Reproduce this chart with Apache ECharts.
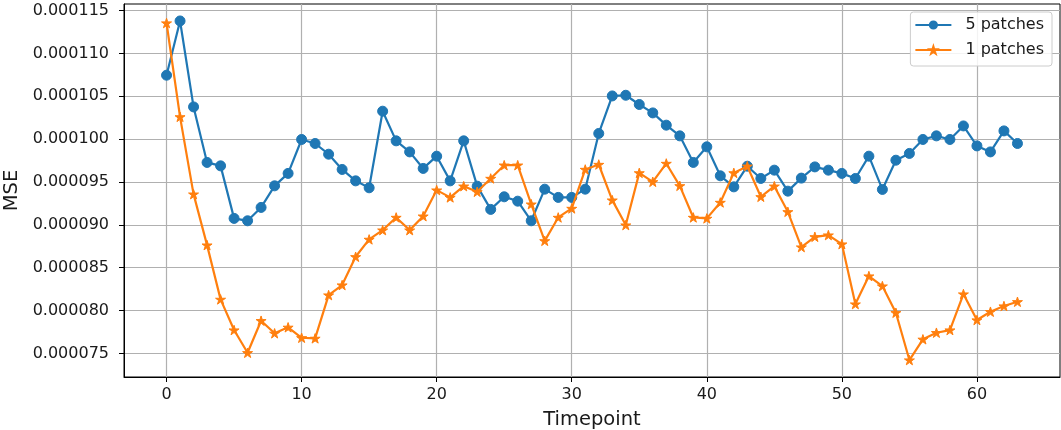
<!DOCTYPE html>
<html>
<head>
<meta charset="utf-8">
<script src="https://cdn.jsdelivr.net/npm/echarts@6/dist/echarts.min.js"></script>
<style>
  html, body { margin: 0; padding: 0; background: #fff; }
  #chart { width: 1061px; height: 430px; }
</style>
</head>
<body>
<div id="chart"></div>
<script>
// Mean squared error per timepoint for two patch settings
const timepoints = Array.from({ length: 64 }, (_, i) => i);

const msePatches5 = [
  0.00010746, 0.00011379, 0.00010376, 0.00009728, 0.00009688, 0.00009075, 0.00009047, 0.00009203,
  0.00009455, 0.00009600, 0.00009996, 0.00009949, 0.00009824, 0.00009646, 0.00009513, 0.00009432,
  0.00010326, 0.00009980, 0.00009851, 0.00009658, 0.00009801, 0.00009513, 0.00009980, 0.00009451,
  0.00009180, 0.00009327, 0.00009276, 0.00009047, 0.00009416, 0.00009320, 0.00009320, 0.00009416,
  0.00010066, 0.00010504, 0.00010512, 0.00010404, 0.00010306, 0.00010163, 0.00010038, 0.00009728,
  0.00009910, 0.00009572, 0.00009443, 0.00009684, 0.00009541, 0.00009638, 0.00009393, 0.00009545,
  0.00009676, 0.00009638, 0.00009600, 0.00009541, 0.00009801, 0.00009413, 0.00009754, 0.00009833,
  0.00009996, 0.00010038, 0.00009996, 0.00010154, 0.00009921, 0.00009851, 0.00010096, 0.00009949
];

const msePatches1 = [
  0.00011355, 0.00010260, 0.00009358, 0.00008763, 0.00008130, 0.00007772, 0.00007507, 0.00007881,
  0.00007734, 0.00007804, 0.00007682, 0.00007675, 0.00008180, 0.00008297, 0.00008627, 0.00008830,
  0.00008938, 0.00009086, 0.00008938, 0.00009101, 0.00009405, 0.00009320, 0.00009451, 0.00009385,
  0.00009541, 0.00009696, 0.00009696, 0.00009241, 0.00008813, 0.00009086, 0.00009191, 0.00009646,
  0.00009704, 0.00009288, 0.00008997, 0.00009606, 0.00009502, 0.00009716, 0.00009455, 0.00009086,
  0.00009075, 0.00009261, 0.00009606, 0.00009684, 0.00009327, 0.00009451, 0.00009152, 0.00008740,
  0.00008860, 0.00008880, 0.00008775, 0.00008075, 0.00008402, 0.00008285, 0.00007974, 0.00007422,
  0.00007664, 0.00007741, 0.00007772, 0.00008192, 0.00007889, 0.00007986, 0.00008052, 0.00008102
];

const xTicks = [0, 10, 20, 30, 40, 50, 60];
const yTicks = [0.000075, 0.000080, 0.000085, 0.000090, 0.000095, 0.000100, 0.000105, 0.000110, 0.000115];

const seriesNames = ['5 patches', '1 patches'];
const colors = ['#1f77b4', '#ff7f0e'];

// five-pointed star marker
const starPath = 'path://M50,0 L61.23,34.55 L97.55,34.55 L68.16,55.9 L79.39,90.45 L50,69.1 L20.61,90.45 L31.84,55.9 L2.45,34.55 L38.77,34.55 Z';

// 5% padding around the data range on each axis
function padded(lo, hi) {
  const p = (hi - lo) * 0.05;
  return [lo - p, hi + p];
}
const allY = msePatches5.concat(msePatches1);
const [yMin, yMax] = padded(Math.min(...allY), Math.max(...allY));
const [xMin, xMax] = padded(timepoints[0], timepoints[timepoints.length - 1]);

const toPairs = (vals) => vals.map((v, i) => [timepoints[i], v]);

const textColor = '#1a1a1a';
const font = 'DejaVu Sans';

const chart = echarts.init(document.getElementById('chart'), null, { renderer: 'canvas' });

chart.setOption({
  animation: false,
  backgroundColor: '#ffffff',
  grid: {
    left: 124, right: 1, top: 4, bottom: 53,
    outerBoundsMode: 'none',
    containLabel: false,
    show: true, borderColor: '#000', borderWidth: 1, backgroundColor: 'transparent'
  },
  legend: {
    right: 9, top: 12,
    orient: 'vertical',
    itemWidth: 36, itemHeight: 9, itemGap: 9,
    padding: [5, 8, 8, 4],
    backgroundColor: 'rgba(255,255,255,0.85)',
    borderColor: '#cccccc', borderWidth: 1, borderRadius: 3,
    textStyle: { fontFamily: font, fontSize: 16, color: textColor, lineHeight: 16, padding: [0, 0, 0, 9] },
    data: seriesNames
  },
  xAxis: {
    type: 'value',
    min: xMin, max: xMax,
    name: 'Timepoint',
    nameLocation: 'middle',
    nameGap: 33,
    nameTextStyle: { fontFamily: font, fontSize: 19.5, color: textColor },
    axisLine: { show: true, onZero: false, lineStyle: { color: '#000', width: 1 } },
    axisTick: { show: true, length: 5, inside: false, customValues: xTicks, lineStyle: { color: '#000', width: 1 } },
    axisLabel: { customValues: xTicks, margin: 10, fontFamily: font, fontSize: 16, color: textColor },
    splitLine: { show: true, lineStyle: { color: '#b0b0b0', width: 1.2 } }
  },
  yAxis: {
    type: 'value',
    min: yMin, max: yMax,
    splitNumber: 9,
    name: 'MSE',
    nameLocation: 'middle',
    nameGap: 99,
    nameRotate: 90,
    nameTextStyle: { fontFamily: font, fontSize: 19.5, color: textColor },
    axisLine: { show: true, onZero: false, lineStyle: { color: '#000', width: 1 } },
    axisTick: { show: true, length: 5, inside: false, customValues: yTicks, lineStyle: { color: '#000', width: 1 } },
    axisLabel: {
      customValues: yTicks,
      margin: 15,
      fontFamily: font, fontSize: 16, color: textColor,
      formatter: (v) => v.toFixed(6)
    },
    splitLine: { show: true, lineStyle: { color: '#b0b0b0', width: 1.2 } }
  },
  series: [
    {
      name: seriesNames[0],
      type: 'line',
      data: toPairs(msePatches5),
      symbol: 'circle',
      symbolSize: 10,
      color: colors[0],
      lineStyle: { width: 2.2, color: colors[0] },
      itemStyle: { color: colors[0], borderColor: colors[0], borderWidth: 1 },
      z: 3
    },
    {
      name: seriesNames[1],
      type: 'line',
      data: toPairs(msePatches1),
      symbol: starPath,
      symbolSize: 10,
      symbolKeepAspect: true,
      color: colors[1],
      lineStyle: { width: 2.2, color: colors[1] },
      itemStyle: { color: colors[1], borderColor: colors[1], borderWidth: 1 },
      z: 4
    }
  ]
});
</script>
</body>
</html>
